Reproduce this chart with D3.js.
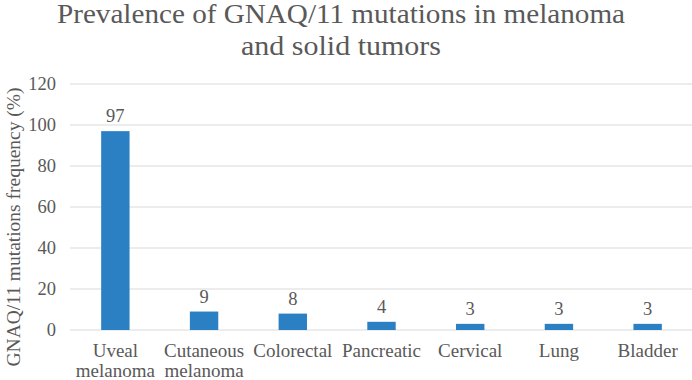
<!DOCTYPE html>
<html>
<head>
<meta charset="utf-8">
<script src="https://cdn.jsdelivr.net/npm/d3@7"></script>
<style>
  body { margin: 0; background: #fff; }
  text { font-family: "Liberation Serif", serif; fill: #595959; }
</style>
</head>
<body>
<div id="chart"></div>
<script>
const categories = [["Uveal", "melanoma"], ["Cutaneous", "melanoma"], ["Colorectal"], ["Pancreatic"], ["Cervical"], ["Lung"], ["Bladder"]];
const values = [97, 9, 8, 4, 3, 3, 3];
const yTicks = [0, 20, 40, 60, 80, 100, 120];
const titleLines = ["Prevalence of GNAQ/11 mutations in melanoma", "and solid tumors"];
const yTitle = "GNAQ/11 mutations frequency (%)";

const W = 692, H = 380;
const margin = {top: 84, right: 0, bottom: 50, left: 71};
const width = W - margin.left - margin.right,
    height = H - margin.top - margin.bottom;

const svg = d3.select("#chart")
  .append("svg")
    .attr("width", W)
    .attr("height", H);

const g = svg.append("g")
    .attr("transform", "translate(" + margin.left + "," + margin.top + ")");

const x = d3.scaleBand()
  .domain(categories.map((d, i) => i))
  .range([0, width])
  .paddingInner(0.68)
  .paddingOuter(0.34);

const y = d3.scaleLinear()
  .domain([0, 120])
  .range([height, 0]);

// gridlines
g.selectAll(".grid")
  .data(yTicks)
  .enter()
  .append("line")
    .attr("x1", -1)
    .attr("x2", width)
    .attr("y1", d => y(d))
    .attr("y2", d => y(d))
    .attr("stroke", "#d9d9d9")
    .attr("stroke-width", 1);

// y tick labels
g.selectAll(".ytick")
  .data(yTicks)
  .enter()
  .append("text")
    .attr("x", -15)
    .attr("y", d => y(d))
    .attr("dy", "0.35em")
    .attr("text-anchor", "end")
    .style("font-size", "18.5px")
    .text(d => d);

// bars
g.selectAll(".bar")
  .data(values)
  .enter()
  .append("rect")
    .attr("x", (d, i) => x(i))
    .attr("y", d => y(d))
    .attr("width", x.bandwidth())
    .attr("height", d => height - y(d))
    .attr("fill", "#2B7FC3");

// value labels
g.selectAll(".val")
  .data(values)
  .enter()
  .append("text")
    .attr("x", (d, i) => x(i) + x.bandwidth() / 2)
    .attr("y", d => y(d) - 9)
    .attr("text-anchor", "middle")
    .style("font-size", "18.5px")
    .text(d => d);

// x labels
categories.forEach(function(lines, i) {
  const t = g.append("text")
    .attr("x", x(i) + x.bandwidth() / 2)
    .attr("y", height + 27)
    .attr("text-anchor", "middle")
    .style("font-size", "19px");
  lines.forEach(function(line, j) {
    t.append("tspan")
      .attr("x", x(i) + x.bandwidth() / 2)
      .attr("dy", j === 0 ? 0 : 19.5)
      .text(line);
  });
});

// y axis title
svg.append("text")
  .attr("transform", "rotate(-90)")
  .attr("x", -227)
  .attr("y", 20)
  .attr("text-anchor", "middle")
  .style("font-size", "19px")
  .attr("textLength", 279)
  .attr("lengthAdjust", "spacingAndGlyphs")
  .text(yTitle);

// chart title
svg.append("text")
  .attr("x", 341)
  .attr("y", 23)
  .attr("text-anchor", "middle")
  .style("font-size", "27px")
  .attr("textLength", 568)
  .attr("lengthAdjust", "spacingAndGlyphs")
  .text(titleLines[0]);
svg.append("text")
  .attr("x", 341)
  .attr("y", 55)
  .attr("text-anchor", "middle")
  .style("font-size", "27px")
  .attr("textLength", 200)
  .attr("lengthAdjust", "spacingAndGlyphs")
  .text(titleLines[1]);
</script>
</body>
</html>
